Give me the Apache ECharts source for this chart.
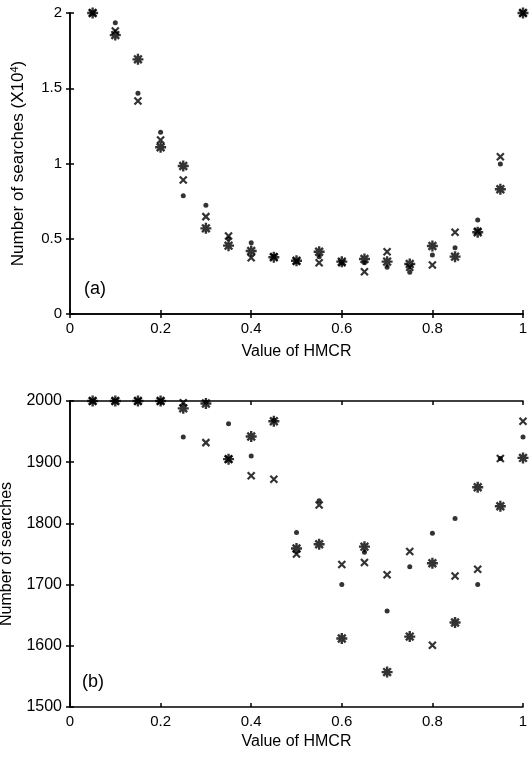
<!DOCTYPE html>
<html>
<head>
<meta charset="utf-8">
<script src="https://cdn.jsdelivr.net/npm/echarts@6/dist/echarts.min.js"></script>
<style>html,body{margin:0;padding:0;background:#fff}#c{width:529px;height:761px}</style>
</head>
<body>
<div id="c"></div>
<script>
const hmcr = [0.05,0.1,0.15,0.2,0.25,0.3,0.35,0.4,0.45,0.5,0.55,0.6,0.65,0.7,0.75,0.8,0.85,0.9,0.95,1.0];

// Panel (a): number of searches (x10^4)
const aDot   = [2.0,1.936,1.466,1.207,0.786,0.722,0.50,0.474,0.38,0.35,0.38,0.34,0.34,0.310,0.277,0.392,0.441,0.625,0.997,2.0];
const aCross = [2.0,1.88,1.415,1.156,0.890,0.647,0.518,0.374,0.38,0.35,0.341,0.34,0.281,0.414,0.31,0.326,0.543,0.55,1.045,2.0];
const aStar  = [2.0,1.853,1.692,1.108,0.983,0.569,0.454,0.419,0.377,0.354,0.414,0.348,0.365,0.348,0.332,0.452,0.381,0.543,0.829,2.0];

// Panel (b): number of searches
const bDot   = [2000,2000,2000,2000,1941,1998,1963,1910,1968,1785,1837,1700,1753,1657,1729,1784,1808,1700,1906,1941];
const bCross = [2000,2000,2000,2000,1997,1932,1905,1878,1872,1750,1830,1733,1736,1716,1754,1601,1714,1725,1906,1967];
const bStar  = [2000,2000,2000,2000,1988,1996,1905,1942,1967,1759,1766,1612,1762,1557,1615,1735,1638,1859,1828,1907];

const xTicks = [0,0.2,0.4,0.6,0.8,1];
const aYTicks = [0,0.5,1,1.5,2];
const bYTicks = [1500,1600,1700,1800,1900,2000];

const FONT = 'Liberation Sans, Arial, sans-serif';
const TICK_FS = 15;
const pair = (ys) => hmcr.map((x,i)=>[x,ys[i]]);

const starPath = 'path://M0,5L10,5M5,0L5,10M1.5,1.5L8.5,8.5M1.5,8.5L8.5,1.5';
const crossPath = 'path://M0,0L10,10M0,10L10,0';

function axisLine(){ return {show:true,lineStyle:{color:'#000',width:1.5}}; }
function fmt(list){ return (v)=>{ const r=+(+v).toFixed(3); return list.includes(r)?String(r):''; }; }
function xAx(grid, bottom){
  return {
    type:'value', gridIndex:grid, min:0, max:1, interval:0.2,
    position: bottom?'bottom':'top',
    axisLine:axisLine(),
    axisTick:{show:true,inside:true,length:4,lineStyle:{color:'#000',width:1.5}},
    axisLabel:{show:bottom,color:'#000',fontFamily:FONT,fontSize:TICK_FS,margin:7,formatter:fmt(xTicks)},
    splitLine:{show:false},
    name: bottom?'Value of HMCR':'', nameLocation:'middle', nameGap: grid===0?30:27,
    nameTextStyle:{color:'#000',fontFamily:FONT,fontSize:16}
  };
}
function yAx(grid, left, min, max, interval, ticks, name, gap, fs, tfs, nameRich){
  return {
    type:'value', gridIndex:grid, min:min, max:max, interval:interval,
    position: left?'left':'right',
    axisLine:axisLine(),
    axisTick:{show:true,inside:true,length:4,lineStyle:{color:'#000',width:1.5}},
    axisLabel:{show:left,color:'#000',fontFamily:FONT,fontSize:tfs,margin:8,formatter:fmt(ticks)},
    splitLine:{show:false},
    name: left?name:'', nameLocation:'middle', nameGap:gap, nameRotate:90,
    nameTextStyle:{color:'#000',fontFamily:FONT,fontSize:fs,rich:nameRich||{}}
  };
}

function series(data, kind, xi, yi){
  const base = {type:'scatter', data:data, xAxisIndex:xi, yAxisIndex:yi, clip:false, silent:true, z: kind==='dot'?3:(kind==='cross'?4:5)};
  if(kind==='dot'){
    return Object.assign(base,{symbol:'circle',symbolSize:5,itemStyle:{color:'#000'}});
  } else if(kind==='cross'){
    return Object.assign(base,{symbol:crossPath,symbolSize:7,itemStyle:{color:'#000',borderColor:'#000',borderWidth:2.2}});
  } else {
    return Object.assign(base,{symbol:starPath,symbolSize:11,itemStyle:{color:'#000',borderColor:'#000',borderWidth:2.4}});
  }
}

const chart = echarts.init(document.getElementById('c'));
chart.setOption({
  animation:false,
  backgroundColor:'#fff',
  grid:[
    {left:70, top:13, width:453, height:301, containLabel:false, outerBoundsMode:'none'},
    {left:70, top:401, width:453, height:306, containLabel:false, outerBoundsMode:'none'}
  ],
  xAxis:[xAx(0,true), xAx(0,false), xAx(1,true), xAx(1,false)],
  yAxis:[
    yAx(0,true,0,2,0.5,aYTicks,'Number of searches (X10{sup|4})',42,17,15,{sup:{fontSize:11,verticalAlign:'bottom',padding:[0,0,8,0],fontFamily:FONT,color:'#000'}}),
    yAx(0,false,0,2,0.5,aYTicks,'',0,16,15),
    yAx(1,true,1500,2000,100,bYTicks,'Number of searches',55,16,16),
    yAx(1,false,1500,2000,100,bYTicks,'',0,16,16)
  ],
  series:[
    series(pair(aDot),'dot',0,0),
    series(pair(aCross),'cross',0,0),
    series(pair(aStar),'star',0,0),
    series(pair(bDot),'dot',2,2),
    series(pair(bCross),'cross',2,2),
    series(pair(bStar),'star',2,2)
  ],
  graphic:[
    {type:'text',left:84,top:280,style:{text:'(a)',font:'18px '+FONT,fill:'#000'}},
    {type:'text',left:82,top:673,style:{text:'(b)',font:'18px '+FONT,fill:'#000'}}
  ]
});
</script>
</body>
</html>
